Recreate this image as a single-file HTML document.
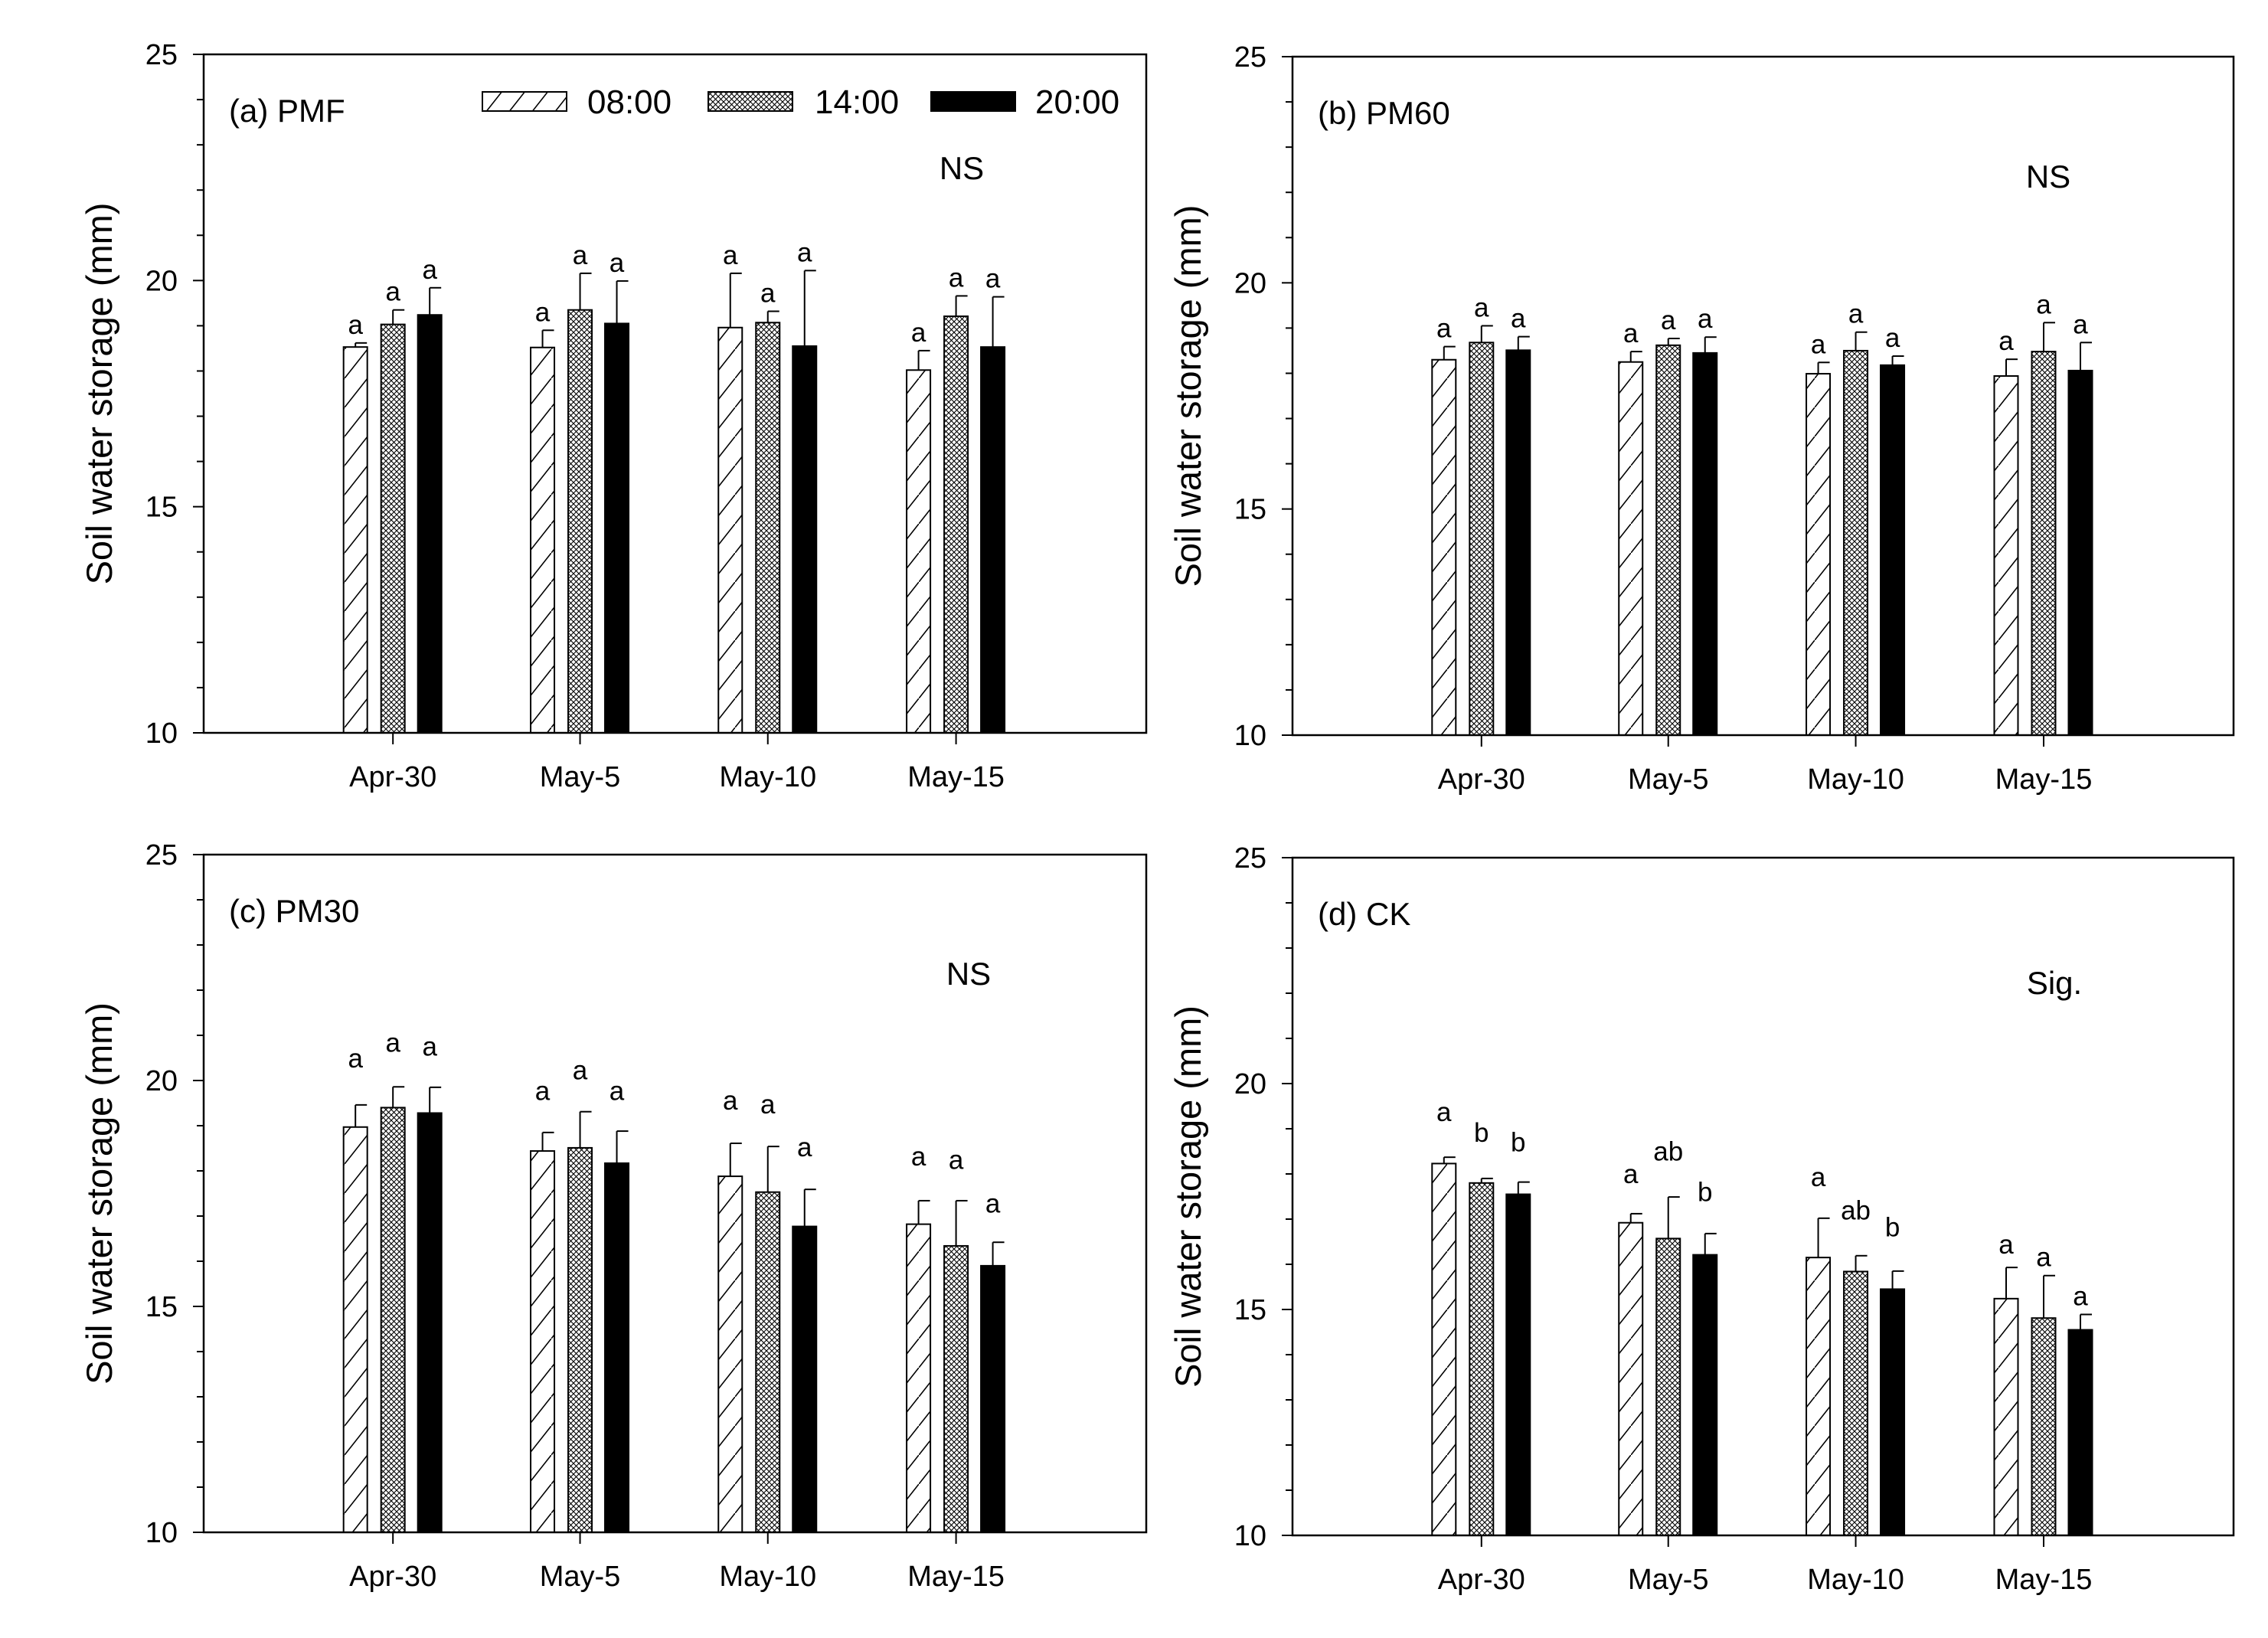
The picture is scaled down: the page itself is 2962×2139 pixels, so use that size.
<!DOCTYPE html>
<html><head><meta charset="utf-8"><style>
html,body{margin:0;padding:0;background:#fff}
svg{display:block}
text{font-family:"Liberation Sans",Arial,sans-serif;fill:#000}
</style></head><body>
<svg id="chart" width="2962" height="2139" viewBox="0 0 2962 2139" xmlns="http://www.w3.org/2000/svg">
<defs>
<pattern id="hatch" patternUnits="userSpaceOnUse" width="30" height="38" x="0" y="0">
<line x1="0" y1="38" x2="30" y2="0" stroke="#000" stroke-width="1.6"/>
</pattern>
<pattern id="cross" patternUnits="userSpaceOnUse" width="7" height="7">
<rect width="7" height="7" fill="#fff"/>
<path d="M0,0 L7,7 M7,0 L0,7" stroke="#000" stroke-width="1.1"/>
</pattern>
</defs>
</svg>
<script>
const categories = ["Apr-30","May-5","May-10","May-15"];
const yTicks = [10,15,20,25];
const seriesNames = ["08:00","14:00","20:00"];
const panelTitles = ["(a) PMF","(b) PM60","(c) PM30","(d) CK"];
const panelNotes = ["NS","NS","NS","Sig."];
// means per panel [series][category]
const meansA = [[18.53,18.52,18.96,18.02],[19.03,19.35,19.07,19.21],[19.24,19.05,18.55,18.53]];
const errA   = [[18.62,18.90,20.16,18.45],[19.35,20.16,19.32,19.66],[19.84,19.99,20.22,19.64]];
const meansB = [[18.30,18.25,17.99,17.94],[18.68,18.62,18.50,18.48],[18.51,18.45,18.18,18.06]];
const errB   = [[18.59,18.48,18.24,18.31],[19.05,18.77,18.91,19.12],[18.81,18.80,18.38,18.68]];
const meansC = [[18.97,18.44,17.88,16.82],[19.40,18.51,17.53,16.34],[19.28,18.17,16.77,15.90]];
const errC   = [[19.46,18.85,18.61,17.34],[19.86,19.31,18.54,17.34],[19.85,18.88,17.59,16.42]];
const meansD = [[18.23,16.92,16.15,15.24],[17.80,16.57,15.84,14.81],[17.55,16.21,15.45,14.55]];
const errD   = [[18.37,17.12,17.02,15.93],[17.90,17.49,16.19,15.75],[17.82,16.68,15.85,14.89]];
// letter label positions (data units, centre) and text
const letterPosC = [[20.51,19.79,19.58,18.34],[20.86,20.25,19.49,18.26],[20.77,19.79,18.54,17.30]];
const letterPosD = [[19.39,18.02,17.95,16.46],[18.93,18.52,17.21,16.18],[18.72,17.62,16.84,15.31]];
const lettersABC = [["a","a","a","a"],["a","a","a","a"],["a","a","a","a"]];
const lettersD = [["a","a","a","a"],["b","ab","ab","a"],["b","b","b","a"]];

const NS = "http://www.w3.org/2000/svg";
const svg = document.getElementById('chart');
function mk(tag, attrs, parent){const e=document.createElementNS(NS,tag);for(const k in attrs)e.setAttribute(k,attrs[k]);(parent||svg).appendChild(e);return e;}

const boxes = [
 {l:266,t:71,r:1497,b:957},
 {l:1688,t:74,r:2917,b:960},
 {l:266,t:1116,r:1497,b:2001},
 {l:1688,t:1120,r:2917,b:2005}
];
const means=[meansA,meansB,meansC,meansD];
const errs=[errA,errB,errC,errD];
const letterPos=[null,null,letterPosC,letterPosD];
const letters=[lettersABC,lettersABC,lettersABC,lettersD];
const catFrac=[0.2008,0.3993,0.5985,0.7982];
const offs=[-49,0,48];
const fills=["url(#hatch)","url(#cross)","#000"];
const barW=31;

boxes.forEach((B,p)=>{
  const g=mk('g',{});
  
  
  const y=v=>B.b-(v-10)/15*(B.b-B.t);
  const x=i=>B.l+catFrac[i]*(B.r-B.l);
  for(let s=0;s<3;s++){
    for(let c=0;c<categories.length;c++){
      const cx=x(c)+offs[s], top=y(means[p][s][c]), et=y(errs[p][s][c]);
      const eb=mk('line',{x1:cx,x2:cx,y1:top,y2:et,stroke:'#000','stroke-width':2},g);
      
      
      const cap=mk('line',{x1:cx,x2:cx+15,y1:et,y2:et,stroke:'#000','stroke-width':2},g);
      
      
      if(s<2){mk('rect',{x:cx-barW/2,y:top,width:barW,height:B.b-top,fill:'#fff'},g);}
      const r=mk('rect',{x:cx-barW/2,y:top,width:barW,height:B.b-top,fill:fills[s],stroke:'#000','stroke-width':2},g);
      
      
      const ly = letterPos[p] ? y(letterPos[p][s][c])+13 : et-12;
      const t=mk('text',{x:cx,y:ly,'font-size':35,'text-anchor':'middle'},g);
      t.textContent=letters[p][s][c];
      
      
    }
  }
  const fr=mk('rect',{x:B.l,y:B.t,width:B.r-B.l,height:B.b-B.t,fill:'none',stroke:'#000','stroke-width':2.5},g);
  
  
  for(let v=10;v<=25;v++){
    const major=yTicks.includes(v);
    mk('line',{x1:B.l-(major?14:9),x2:B.l,y1:y(v),y2:y(v),stroke:'#000','stroke-width':2},g);
  }
  yTicks.forEach(v=>{
    const t=mk('text',{x:B.l-34,y:y(v)+13,'font-size':38,'text-anchor':'end'},g);
    t.textContent=v;
    
    
  });
  categories.forEach((c,i)=>{
    mk('line',{x1:x(i),x2:x(i),y1:B.b,y2:B.b+15,stroke:'#000','stroke-width':2},g);
    const t=mk('text',{x:x(i),y:B.b+70,'font-size':38,'text-anchor':'middle'},g);
    t.textContent=c;
    
    
  });
  const yc=(B.t+B.b)/2, tx=B.l-120;
  const yt=mk('text',{x:tx,y:yc,'font-size':47,'text-anchor':'middle',transform:`rotate(-90 ${tx} ${yc})`},g);
  yt.textContent='Soil water storage (mm)';
  
  
  const pt=mk('text',{x:B.l+33,y:B.t+88,'font-size':42},g);
  pt.textContent=panelTitles[p];
  
  
  const noteY=[163,171,170,178][p];
  const nt=mk('text',{x:B.l+[990,987,999,995][p],y:B.t+noteY,'font-size':42,'text-anchor':'middle'},g);
  nt.textContent=panelNotes[p];
  
  
});

const lg=mk('g',{});


const legX=[630,925,1216], legTX=[767,1064,1352];
seriesNames.forEach((n,i)=>{
  if(i<2) mk('rect',{x:legX[i],y:120,width:110,height:25,fill:'#fff'},lg);
  const r=mk('rect',{x:legX[i],y:120,width:110,height:25,fill:fills[i],stroke:'#000','stroke-width':2},lg);
  
  
  const t=mk('text',{x:legTX[i],y:148,'font-size':44},lg);
  t.textContent=n;
  
  
});
</script>
</body></html>
